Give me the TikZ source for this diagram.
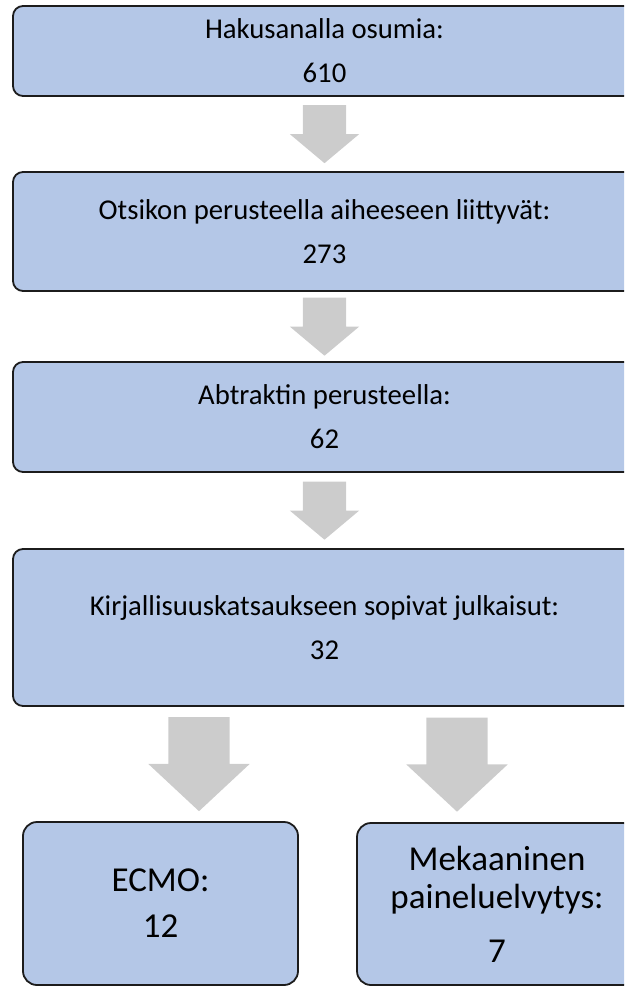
\documentclass[tikz,border=0pt]{standalone}
\usepackage{fontspec}
\setmainfont{Carlito}
\usepackage{xcolor}
\usetikzlibrary{shapes.arrows, positioning, calc}

\definecolor{boxblue}{RGB}{180,199,231}
\definecolor{boxline}{RGB}{28,28,28}
\definecolor{arrowgray}{RGB}{204,204,204}

\tikzset{
  stagebox/.style={draw=boxline, line width=1.8pt, fill=boxblue, rounded corners=10pt,
    inner sep=0pt, align=center, font=\fontsize{28.7}{44}\selectfont},
  endbox/.style={stagebox, rounded corners=14pt, font=\fontsize{35}{38}\selectfont},
  downarrow/.style={single arrow, rotate=-90, anchor=tail, fill=arrowgray, draw=none,
    inner xsep=0pt, inner ysep=21.5pt, minimum height=58pt,
    single arrow head extend=13pt, single arrow tip angle=100},
  bigdownarrow/.style={downarrow, inner ysep=30.5pt, minimum height=94pt,
    single arrow head extend=20pt, single arrow tip angle=94}
}

\begin{document}
\begin{tikzpicture}[x=1pt, y=-1pt]
\useasboundingbox (0,0) rectangle (624,987);
\clip (0,0) rectangle (624,987);
% screening stages
\node[stagebox, minimum width=623pt, minimum height=90pt] (hits) at (324.5,51) {Hakusanalla osumia:\\610};
\node[stagebox, minimum width=623pt, minimum height=119pt] (title) at (324.5,231.5) {Otsikon perusteella aiheeseen liittyvät:\\273};
\node[stagebox, minimum width=623pt, minimum height=110pt] (abstract) at (324.5,417) {Abtraktin perusteella:\\62};
\node[stagebox, minimum width=623pt, minimum height=157pt] (review) at (324.5,627.5) {Kirjallisuuskatsaukseen sopivat julkaisut:\\32};
% split into two groups
\node[endbox, minimum width=275pt, minimum height=163pt] (ecmo) at (160.5,903.5) {ECMO:\\[8pt]12};
\node[endbox, minimum width=280pt, minimum height=162pt] (cpr) at (497,904) {Mekaaninen\\paineluelvytys:\\[16pt]7};
% block arrows
\node[downarrow] (a1) at ($(hits.south)!.5!(title.north)+(0,-29)$) {};
\node[downarrow] (a2) at ($(title.south)!.5!(abstract.north)+(0,-29)$) {};
\node[downarrow] (a3) at ($(abstract.south)!.5!(review.north)+(0,-29)$) {};
\node[bigdownarrow] (a4) at ($(ecmo.north |- review.south)!.5!(ecmo.north)+(38.5,-47)$) {};
\node[bigdownarrow] (a5) at ($(cpr.north |- review.south)!.5!(cpr.north)+(-40,-47)$) {};
\end{tikzpicture}
\end{document}
